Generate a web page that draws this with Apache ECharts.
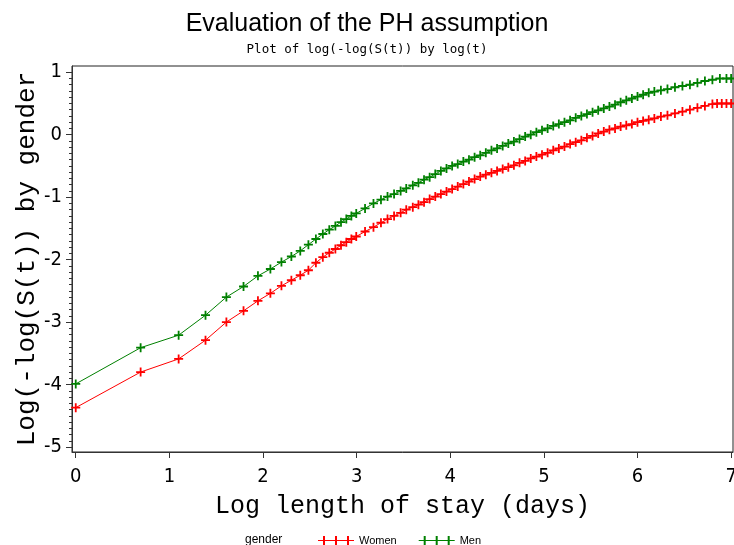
<!DOCTYPE html>
<html><head><meta charset="utf-8">
<script src="https://cdn.jsdelivr.net/npm/echarts@6/dist/echarts.min.js"></script>
<style>html,body{margin:0;padding:0;background:#fff;overflow:hidden}#c{width:734px;height:545px}</style>
</head><body><div id="c"></div>
<script>
// Log(days) positions and log(-log(S(t))) values
const menX = [0, 0.693, 1.099, 1.386, 1.609, 1.792, 1.946, 2.079, 2.197, 2.303, 2.398, 2.485, 2.565, 2.639, 2.708, 2.773, 2.833, 2.890, 2.944, 2.996,
  3.09, 3.18, 3.26, 3.33, 3.40, 3.47, 3.53, 3.60, 3.66, 3.72, 3.78, 3.84, 3.90, 3.96, 4.02, 4.08, 4.14, 4.20, 4.26, 4.32, 4.38, 4.44, 4.50, 4.56, 4.62, 4.68, 4.74, 4.80, 4.86, 4.92, 4.98,
  5.04, 5.10, 5.16, 5.22, 5.28, 5.34, 5.40, 5.46, 5.52, 5.58, 5.64, 5.70, 5.76, 5.82, 5.88, 5.94, 6.00, 6.06, 6.12, 6.18, 6.25, 6.32, 6.40, 6.48, 6.56, 6.64, 6.72, 6.80, 6.88, 6.95, 7.00];
const menY = [-3.99, -3.41, -3.21, -2.89, -2.60, -2.43, -2.26, -2.15, -2.04, -1.95, -1.86, -1.76, -1.67, -1.59, -1.52, -1.46, -1.40, -1.35, -1.30, -1.26,
  -1.18, -1.10, -1.04, -0.99, -0.95, -0.90, -0.86, -0.81, -0.77, -0.72, -0.68, -0.63, -0.58, -0.54, -0.50, -0.47, -0.43, -0.40, -0.36, -0.33, -0.29, -0.25, -0.22, -0.18, -0.14, -0.11, -0.07, -0.03, 0.00, 0.04, 0.07,
  0.10, 0.14, 0.17, 0.20, 0.23, 0.27, 0.30, 0.33, 0.36, 0.39, 0.42, 0.45, 0.48, 0.52, 0.55, 0.58, 0.61, 0.64, 0.67, 0.69, 0.71, 0.73, 0.76, 0.78, 0.80, 0.83, 0.86, 0.88, 0.90, 0.90, 0.90];
const womenX = [0, 0.693, 1.099, 1.386, 1.609, 1.792, 1.946, 2.079, 2.197, 2.303, 2.398, 2.485, 2.565, 2.639, 2.708, 2.773, 2.833, 2.890, 2.944, 2.996,
  3.09, 3.18, 3.26, 3.33, 3.40, 3.47, 3.53, 3.60, 3.66, 3.72, 3.78, 3.84, 3.90, 3.96, 4.02, 4.08, 4.14, 4.20, 4.26, 4.32, 4.38, 4.44, 4.50, 4.56, 4.62, 4.68, 4.74, 4.80, 4.86, 4.92, 4.98,
  5.04, 5.10, 5.16, 5.22, 5.28, 5.34, 5.40, 5.46, 5.52, 5.58, 5.64, 5.70, 5.76, 5.82, 5.88, 5.94, 6.00, 6.06, 6.12, 6.18, 6.25, 6.32, 6.40, 6.48, 6.56, 6.64, 6.72, 6.80, 6.85, 6.90, 6.95, 7.00];
const womenY = [-4.37, -3.80, -3.59, -3.29, -3.00, -2.82, -2.66, -2.54, -2.42, -2.33, -2.25, -2.17, -2.05, -1.96, -1.89, -1.83, -1.77, -1.72, -1.67, -1.63,
  -1.55, -1.48, -1.41, -1.35, -1.30, -1.25, -1.20, -1.16, -1.12, -1.08, -1.03, -0.99, -0.95, -0.91, -0.87, -0.83, -0.79, -0.75, -0.71, -0.67, -0.64, -0.61, -0.58, -0.55, -0.52, -0.49, -0.45, -0.42, -0.38, -0.35, -0.32,
  -0.29, -0.25, -0.22, -0.19, -0.15, -0.12, -0.09, -0.05, -0.02, 0.02, 0.05, 0.08, 0.10, 0.13, 0.15, 0.17, 0.20, 0.22, 0.24, 0.26, 0.29, 0.31, 0.34, 0.37, 0.40, 0.43, 0.46, 0.49, 0.50, 0.50, 0.50, 0.50];
const xTicks = [0, 1, 2, 3, 4, 5, 6, 7];
const yTicks = [-5, -4, -3, -2, -1, 0, 1];
const seriesNames = ['Women', 'Men'];
const titleText = 'Evaluation of the PH assumption';
const subtitleText = 'Plot of log(-log(S(t)) by log(t)';
const xName = 'Log length of stay (days)';
const yName = 'Log(-log(S(t)) by gender';
const legendTitle = 'gender';

const yMinor = [];
for (let i = -50; i <= 10; i++) yMinor.push(i / 10);

const tickFont = '"DejaVu Sans Condensed", "Liberation Sans", sans-serif';
const plus = 'path://M4,0H6V4H10V6H6V10H4V6H0V4H4Z';
const legIcon = 'path://M0,4H36V5H0Z M5,0H7V9H5Z M17,0H19V9H17Z M29,0H31V9H29Z M2,4H10V5H2Z';
const zip = (xs, ys) => xs.map((x, i) => [x, ys[i]]);

const chart = echarts.init(document.getElementById('c'), null, {renderer: 'canvas', width: 734, height: 545});
chart.setOption({
  animation: false,
  backgroundColor: '#fff',
  title: [
    {text: titleText, left: 'center', top: 7, textStyle: {fontFamily: 'Liberation Sans', fontSize: 25, fontWeight: 'normal', color: '#000'}},
    {text: subtitleText, left: 'center', top: 38, textStyle: {fontFamily: 'DejaVu Sans Mono', fontSize: 12.5, fontWeight: 'normal', color: '#000'}}
  ],
  grid: {left: 72, right: 1, top: 66, bottom: 93, show: true, borderColor: '#222', borderWidth: 1, backgroundColor: 'transparent', outerBoundsMode: 'none', containLabel: false},
  xAxis: {
    type: 'value', min: -0.04, max: 7.02,
    name: xName, nameLocation: 'middle', nameGap: 42, nameMoveOverlap: false,
    nameTextStyle: {fontFamily: 'Liberation Mono', fontSize: 25, color: '#000'},
    axisLine: {onZero: false, lineStyle: {color: '#333', width: 1}},
    axisTick: {customValues: xTicks, length: 6, lineStyle: {color: '#333'}},
    axisLabel: {customValues: xTicks, margin: 15, fontFamily: tickFont, fontSize: 20, color: '#000', hideOverlap: false},
    splitLine: {show: false}
  },
  yAxis: [{
    type: 'value', min: -5.08, max: 1.1,
    name: yName, nameLocation: 'middle', nameGap: 32, nameRotate: 90, nameMoveOverlap: false,
    nameTextStyle: {fontFamily: 'Liberation Mono', fontSize: 26, color: '#000'},
    axisLine: {show: true, onZero: false, lineStyle: {color: '#333', width: 1}},
    axisTick: {show: true, customValues: yTicks, length: 6, lineStyle: {color: '#333'}},
    axisLabel: {customValues: yTicks, margin: 10, fontFamily: tickFont, fontSize: 20, color: '#000'},
    splitLine: {show: false}
  }, {
    type: 'value', min: -5.08, max: 1.1, position: 'left',
    axisLine: {show: false, onZero: false},
    axisTick: {show: true, customValues: yMinor, length: 3, lineStyle: {color: '#333'}},
    axisLabel: {show: false},
    splitLine: {show: false}
  }],
  legend: {
    data: seriesNames, left: 313, top: 530, itemWidth: 36, itemHeight: 9, itemGap: 22,
    icon: legIcon,
    textStyle: {fontFamily: 'Liberation Sans', fontSize: 11, color: '#000'}
  },
  graphic: [{type: 'text', left: 245, top: 534, style: {text: legendTitle, font: '12px "Liberation Sans"', fill: '#000'}}],
  series: [
    {name: seriesNames[0], type: 'line', data: zip(womenX, womenY), symbol: plus, symbolSize: 9, showAllSymbol: true,
      itemStyle: {color: '#ff0000'}, lineStyle: {color: '#ff0000', width: 1}},
    {name: seriesNames[1], type: 'line', data: zip(menX, menY), symbol: plus, symbolSize: 9, showAllSymbol: true,
      itemStyle: {color: '#008000'}, lineStyle: {color: '#008000', width: 1}}
  ]
});
</script></body></html>
